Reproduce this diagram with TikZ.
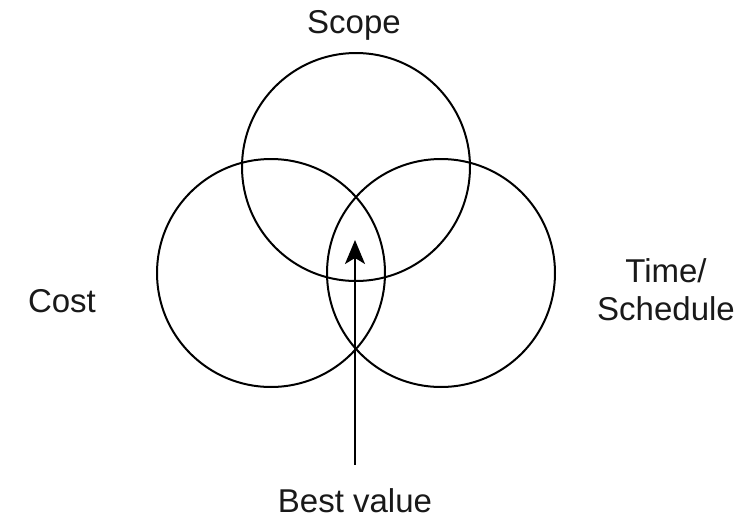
\documentclass[tikz,border=0pt]{standalone}
\usepackage{fontspec}
\setmainfont{Liberation Sans}
\usetikzlibrary{arrows.meta}

\tikzset{
  venn/.style={draw, circle, line width=2pt, minimum size=228pt, inner sep=0pt},
  lbl/.style={font=\fontsize{33}{38}\selectfont, text=black!90, inner sep=2pt},
  bestarrow/.style={line width=2pt, -{Stealth[length=24pt,width=20pt,inset=6pt]}}
}

\begin{document}
\begin{tikzpicture}[x=1pt,y=-1pt]
\useasboundingbox (0,0) rectangle (748,520);
% the three circles
\node[venn] (scopec) at (356,167) {};
\node[venn] (costc) at (271,273) {};
\node[venn] (timec) at (441,273) {};
%
\node[lbl, anchor=base] (scope) at (354,33) {Scope};
\node[lbl, anchor=base] (cost) at (62,312) {Cost};
\node[lbl, align=center] (time) at (666,290) {Time/\\Schedule};
\node[lbl, anchor=base] (best) at (355,512) {Best value};
%
\coordinate (tip) at (355,240);
\draw[bestarrow, shorten <=21pt] (best.north) -- (tip);
\end{tikzpicture}
\end{document}
